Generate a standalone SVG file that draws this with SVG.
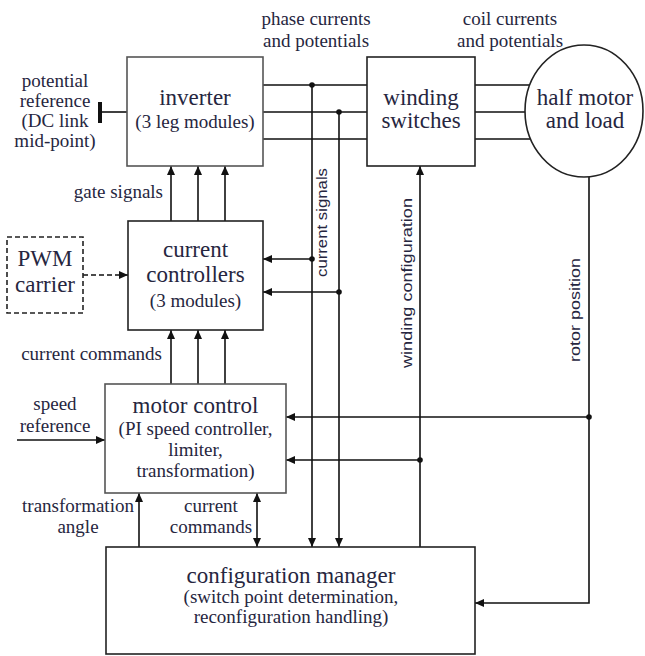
<svg xmlns="http://www.w3.org/2000/svg" width="645" height="656" viewBox="0 0 645 656">
<defs>
<marker id="ah" viewBox="0 0 9 8" markerWidth="9" markerHeight="8" refX="9" refY="4" orient="auto" markerUnits="userSpaceOnUse">
<path d="M0,0 L9,4 L0,8 z" fill="#111"/>
</marker>
<marker id="as" viewBox="0 0 9 8" markerWidth="9" markerHeight="8" refX="0" refY="4" orient="auto" markerUnits="userSpaceOnUse">
<path d="M9,0 L0,4 L9,8 z" fill="#111"/>
</marker>
</defs>
<style>
.box{fill:#fff;stroke:#222;stroke-width:1.6}
.gbox{fill:#fff;stroke:#555;stroke-width:1.6}
.dbox{fill:#fff;stroke:#222;stroke-width:1.6;stroke-dasharray:5,3}
.ln{fill:none;stroke:#111;stroke-width:1.6}
.ar{fill:none;stroke:#111;stroke-width:1.6;marker-end:url(#ah)}
.dl{fill:none;stroke:#111;stroke-width:1.6;stroke-dasharray:5,3;marker-end:url(#ah)}
.dot{fill:#111}
.m{font-size:23px;text-anchor:middle}
.s{font-size:19px;text-anchor:middle}
.l{font-size:19px}
.v{font-size:15px}
</style>
<g id="connectors">
<rect x="98" y="102" width="4" height="21" fill="#111"/>
<path class="ln" d="M100,112 H127"/>
<path class="ln" d="M263,85 H367 M263,112 H367 M263,139 H367"/>
<path class="ln" d="M475,85 H560 M475,112 H560 M475,139 H560"/>
<path class="ar" d="M171,221 V166"/>
<path class="ar" d="M198,221 V166"/>
<path class="ar" d="M225,221 V166"/>
<path class="ar" d="M171,384 V330"/>
<path class="ar" d="M198,384 V330"/>
<path class="ar" d="M225,384 V330"/>
<path class="dl" d="M83,275 H128"/>
<path class="ar" d="M312,85 V547"/>
<path class="ar" d="M312,259 H263"/>
<path class="ar" d="M339,112 V547"/>
<path class="ar" d="M339,292 H263"/>
<path class="ar" d="M420,547 V166"/>
<path class="ar" d="M420,460 H286"/>
<path class="ar" d="M589,177 V603 H475"/>
<path class="ar" d="M589,417 H286"/>
<path class="ar" d="M17,440 H105"/>
<path class="ar" d="M139,547 V493"/>
<path class="ar" d="M257,493 V547" style="marker-start:url(#as)"/>
<circle class="dot" cx="312" cy="85" r="2.8"/>
<circle class="dot" cx="312" cy="259" r="2.8"/>
<circle class="dot" cx="339" cy="112" r="2.8"/>
<circle class="dot" cx="339" cy="292" r="2.8"/>
<circle class="dot" cx="420" cy="460" r="2.8"/>
<circle class="dot" cx="589" cy="417" r="2.8"/>
</g>
<g font-family="Liberation Serif, Times New Roman, serif" fill="#262640">
<g id="inverter">
<rect class="gbox" x="127" y="57" width="136" height="109"/>
<text class="m" x="195" y="105">inverter</text>
<text class="s" x="195" y="128">(3 leg modules)</text>
</g>
<g id="winding-switches">
<rect class="box" x="367" y="57" width="108" height="109"/>
<text class="m" x="421" y="105">winding</text>
<text class="m" x="421" y="128">switches</text>
</g>
<g id="half-motor">
<ellipse class="box" cx="584" cy="111" rx="59" ry="66"/>
<text class="m" x="585" y="105">half motor</text>
<text class="m" x="585" y="128">and load</text>
</g>
<g id="current-controllers">
<rect class="box" x="128" y="221" width="135" height="109"/>
<text class="m" x="195.5" y="257">current</text>
<text class="m" x="195.5" y="282">controllers</text>
<text class="s" x="195.5" y="307">(3 modules)</text>
</g>
<g id="pwm-carrier">
<rect class="dbox" x="7" y="237" width="76" height="76"/>
<text class="m" x="45" y="266">PWM</text>
<text class="m" x="45" y="292">carrier</text>
</g>
<g id="motor-control">
<rect class="gbox" x="105" y="384" width="181" height="109"/>
<text class="m" x="195.5" y="413">motor control</text>
<text class="s" x="195.5" y="435">(PI speed controller,</text>
<text class="s" x="195.5" y="456">limiter,</text>
<text class="s" x="195.5" y="477">transformation)</text>
</g>
<g id="configuration-manager">
<rect class="box" x="106" y="547" width="369" height="107"/>
<text class="m" x="291" y="583">configuration manager</text>
<text class="s" x="291" y="603">(switch point determination,</text>
<text class="s" x="291" y="623">reconfiguration handling)</text>
</g>
<g id="labels">
<text class="s" x="316" y="25">phase currents</text>
<text class="s" x="316" y="47">and potentials</text>
<text class="s" x="510" y="25">coil currents</text>
<text class="s" x="510" y="47">and potentials</text>
<text class="s" x="55" y="87">potential</text>
<text class="s" x="55" y="107">reference</text>
<text class="s" x="55" y="127">(DC link</text>
<text class="s" x="55" y="147">mid-point)</text>
<text class="l" x="163" y="198" text-anchor="end">gate signals</text>
<text class="l" x="162" y="360" text-anchor="end">current commands</text>
<text class="s" x="55" y="410">speed</text>
<text class="s" x="55" y="432">reference</text>
<text class="s" x="78" y="512">transformation</text>
<text class="s" x="78" y="533">angle</text>
<text class="s" x="211" y="512">current</text>
<text class="s" x="211" y="533">commands</text>
</g>
<g id="vertical-labels" font-family="Liberation Sans, Arial, sans-serif">
<text class="v" transform="translate(327,277) rotate(-90)" textLength="109" lengthAdjust="spacingAndGlyphs">current signals</text>
<text class="v" transform="translate(412,368) rotate(-90)" textLength="170" lengthAdjust="spacingAndGlyphs">winding configuration</text>
<text class="v" transform="translate(580,362) rotate(-90)" textLength="104" lengthAdjust="spacingAndGlyphs">rotor position</text>
</g>
</g>
</svg>
